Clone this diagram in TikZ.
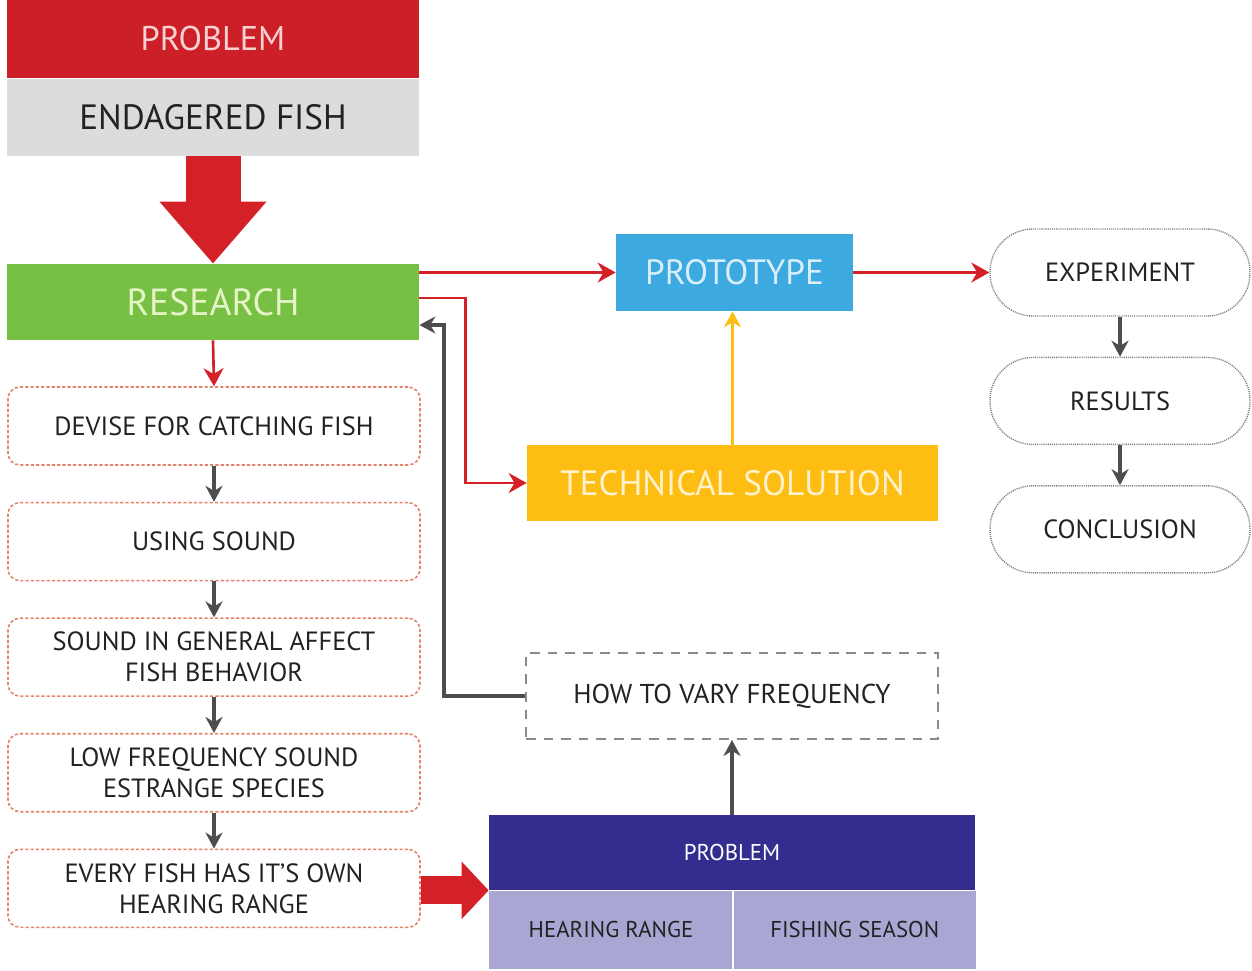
\documentclass[tikz,border=0pt]{standalone}
\usepackage{fontspec}
\setmainfont{PT Sans}
\usepackage{tikz}
\usetikzlibrary{positioning,arrows.meta,calc}
\definecolor{problemred}{HTML}{CC1F27}
\definecolor{problemtext}{HTML}{F7D2D2}
\definecolor{headergray}{HTML}{DCDCDC}
\definecolor{researchgreen}{HTML}{77C043}
\definecolor{researchtext}{HTML}{E6F5C8}
\definecolor{protoblue}{HTML}{3CA9E0}
\definecolor{prototext}{HTML}{D8EEF9}
\definecolor{techyellow}{HTML}{FDBD13}
\definecolor{techtext}{HTML}{FFF2CC}
\definecolor{problempurple}{HTML}{322D8E}
\definecolor{lavender}{HTML}{A9A6D4}
\definecolor{textdark}{HTML}{222222}
\definecolor{arrowred}{HTML}{D42027}
\definecolor{arrowgray}{HTML}{4D4D4D}
\definecolor{dashred}{HTML}{E4826A}
\definecolor{dotgray}{HTML}{7A7A7A}
\definecolor{varygray}{HTML}{8A8A8A}
\tikzstyle{header} = [rectangle, minimum width=8.24cm, minimum height=1.56cm, text centered, inner sep=0pt]
\tikzstyle{dashbox} = [rectangle, rounded corners=0.24cm, minimum width=8.24cm, minimum height=1.56cm, align=center, draw=dashred, line width=0.9pt, dash pattern=on 1.8pt off 1.2pt, text=textdark, font=\fontsize{15}{17.6}\selectfont]
\tikzstyle{pillbox} = [rectangle, rounded corners=0.86cm, minimum width=5.2cm, minimum height=1.74cm, text centered, draw=dotgray, line width=0.8pt, dash pattern=on 0.6pt off 0.6pt, text=textdark, font=\fontsize{15}{17.6}\selectfont]
\tikzstyle{redarrow} = [draw=arrowred, line width=1.5pt, -{Stealth[length=0.36cm,width=0.4cm]}]
\tikzstyle{grayarrow} = [draw=arrowgray, line width=1.8pt, -{Stealth[length=0.32cm,width=0.34cm]}]
\tikzstyle{yellowarrow} = [draw=techyellow, line width=1.5pt, -{Stealth[length=0.32cm,width=0.34cm]}]
\tikzstyle{fatarrow} = [draw=arrowred]
\begin{document}
\begin{tikzpicture}
    \useasboundingbox (0,0) rectangle (25.04,-19.4);
    % Problem and research
    \node (problem) [header, fill=problemred, text=problemtext, font=\fontsize{19.5}{22}\selectfont] at (4.26,-0.78) {PROBLEM};
    \node (endangered) [header, minimum height=1.54cm, fill=headergray, text=textdark, font=\fontsize{20}{24}\selectfont, below=0pt of problem] {ENDAGERED FISH};
    \node (research) [header, minimum height=1.52cm, fill=researchgreen, text=researchtext, font=\fontsize{21.5}{24}\selectfont] at (4.26,-6.04) {RESEARCH};
    \draw [fatarrow, line width=1.1cm, -{Triangle[width=2.06cm,length=1.24cm]}] (endangered.south) -- (research.north);
    % Research steps
    \node (devise) [dashbox] at (4.28,-8.52) {DEVISE FOR CATCHING FISH};
    \node (usingsound) [dashbox, below=0.72cm of devise] {USING SOUND};
    \node (affect) [dashbox, below=0.72cm of usingsound] {SOUND IN GENERAL AFFECT\\FISH BEHAVIOR};
    \node (lowfreq) [dashbox, below=0.72cm of affect] {LOW FREQUENCY SOUND\\ESTRANGE SPECIES};
    \node (hearing) [dashbox, below=0.72cm of lowfreq] {EVERY FISH HAS IT’S OWN\\HEARING RANGE};
    \draw [redarrow] (research.south) -- (devise.north);
    \draw [grayarrow] (devise.south) -- (usingsound.north);
    \draw [grayarrow] (usingsound.south) -- (affect.north);
    \draw [grayarrow] (affect.south) -- (lowfreq.north);
    \draw [grayarrow] (lowfreq.south) -- (hearing.north);
    % Prototype and technical solution
    \node (prototype) [header, minimum width=4.74cm, minimum height=1.54cm, fill=protoblue, text=prototext, font=\fontsize{20}{24}\selectfont] at (14.69,-5.45) {PROTOTYPE};
    \node (technical) [header, minimum width=8.22cm, minimum height=1.52cm, fill=techyellow, text=techtext, font=\fontsize{20}{24}\selectfont] at (14.65,-9.66) {TECHNICAL SOLUTION};
    \draw [redarrow] (prototype.west -| research.east) -- (prototype.west);
    \draw [redarrow] ($(research.east)+(0,0.08)$) -- ++(0.92,0) |- (technical.west);
    \draw [yellowarrow] (technical.north) -- (technical.north |- prototype.south);
    % Experiment, results, conclusion
    \node (experiment) [pillbox] at (22.4,-5.45) {EXPERIMENT};
    \node (results) [pillbox, below=0.8cm of experiment] {RESULTS};
    \node (conclusion) [pillbox, below=0.8cm of results] {CONCLUSION};
    \draw [redarrow] (prototype.east) -- (experiment.west);
    \draw [grayarrow] (experiment.south) -- (results.north);
    \draw [grayarrow] (results.south) -- (conclusion.north);
    % Frequency problem
    \node (vary) [rectangle, minimum width=8.24cm, minimum height=1.72cm, draw=varygray, line width=1.1pt, dash pattern=on 5.5pt off 4.5pt, text=textdark, font=\fontsize{15.5}{19}\selectfont] at (14.64,-13.92) {HOW TO VARY FREQUENCY};
    \node (fishproblem) [header, minimum width=9.72cm, minimum height=1.5cm, fill=problempurple, text=white, font=\fontsize{13}{16}\selectfont] at (14.64,-17.05) {PROBLEM};
    \node (hearingrange) [header, minimum width=4.88cm, fill=lavender, text=textdark, font=\fontsize{13}{16}\selectfont, below right=0pt and 0pt of fishproblem.south west] {HEARING RANGE};
    \node (season) [header, minimum width=4.84cm, fill=lavender, text=textdark, font=\fontsize{13}{16}\selectfont, right=0pt of hearingrange] {FISHING SEASON};
    \draw [white, line width=1.2pt] (hearingrange.north east) -- (hearingrange.south east);
    \draw [grayarrow] (fishproblem.north) -- (vary.south);
    \draw [grayarrow] (vary.west) -- ++(-1.62,0) |- ($(research.east)+(0,-0.46)$);
    \draw [fatarrow, line width=0.56cm, -{Triangle[width=1.12cm,length=0.54cm]}] (hearing.east |- fishproblem.south west) -- (fishproblem.south west);
\end{tikzpicture}
\end{document}
